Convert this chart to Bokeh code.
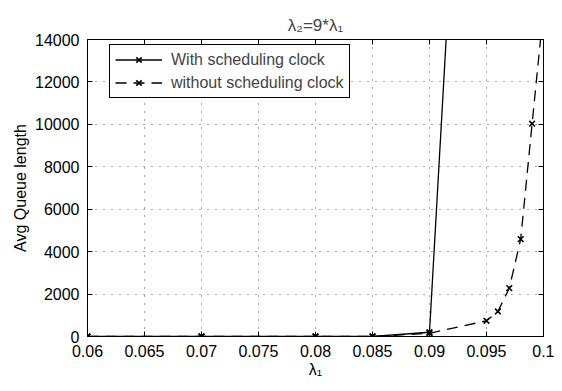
from bokeh.plotting import figure
from bokeh.models import Range1d, LinearAxis, Legend, LegendItem
from bokeh.embed import file_html
from bokeh.resources import INLINE

x_with = [0.06, 0.07, 0.08, 0.085, 0.09, 0.095]
y_with = [0, 0, 0, 0, 200, 47500]
x_without = [0.06, 0.07, 0.08, 0.085, 0.09, 0.095, 0.096, 0.097, 0.098, 0.099, 0.1]
y_without = [0, 0, 0, 0, 150, 740, 1180, 2280, 4590, 10030, 15400]
x_ticks = [0.06, 0.065, 0.07, 0.075, 0.08, 0.085, 0.09, 0.095, 0.1]
x_tick_labels = ["0.06", "0.065", "0.07", "0.075", "0.08", "0.085", "0.09", "0.095", "0.1"]
y_ticks = [0, 2000, 4000, 6000, 8000, 10000, 12000, 14000]

FONT = "Liberation Sans"
FS = "16px"

p = figure(width=554, height=383, output_backend="svg", toolbar_location=None,
           x_range=Range1d(0.06, 0.1), y_range=Range1d(0, 14000),
           min_border_left=87, min_border_right=11, min_border_top=39, min_border_bottom=47,
           title="λ₂=9*λ₁")
p.title.align = "center"
p.title.text_font = FONT
p.title.text_font_size = "17px"
p.title.text_font_style = "normal"
p.outline_line_color = "black"
p.outline_line_width = 1

for ax in (p.xaxis[0], p.yaxis[0]):
    ax.major_label_text_font = FONT
    ax.major_label_text_font_size = FS
    ax.axis_label_text_font = FONT
    ax.axis_label_text_font_size = FS
    ax.axis_label_text_font_style = "normal"
    ax.major_tick_in = 5
    ax.major_tick_out = 0
    ax.minor_tick_in = 3
    ax.minor_tick_out = 0
    ax.axis_line_color = "black"
    ax.major_tick_line_color = "black"
    ax.minor_tick_line_color = "black"
    ax.major_label_text_color = "black"
    ax.axis_label_text_color = "black"

p.xaxis[0].ticker = x_ticks
p.xaxis[0].major_label_overrides = {t: l for t, l in zip(x_ticks, x_tick_labels)}
p.yaxis[0].ticker = y_ticks
p.xaxis[0].axis_label = "λ₁"
p.yaxis[0].axis_label = "Avg Queue length"
p.xaxis[0].major_label_standoff = 8
p.xaxis[0].axis_label_standoff = 1
p.yaxis[0].major_label_standoff = 8
p.yaxis[0].axis_label_standoff = 3

for loc in ("right", "above"):
    ticks = x_ticks if loc == "above" else y_ticks
    a = LinearAxis(major_tick_in=5, major_tick_out=0,
                   minor_tick_in=3, minor_tick_out=0, axis_line_color="black",
                   major_tick_line_color="black", minor_tick_line_color="black",
                   major_label_standoff=0)
    a.ticker = ticks
    a.major_label_overrides = {t: "" for t in ticks}
    p.add_layout(a, loc)

p.grid.grid_line_color = "black"
p.grid.grid_line_alpha = 0.7
p.grid.grid_line_dash = "1 7"
p.xgrid.ticker = x_ticks
p.ygrid.ticker = y_ticks

l1 = p.line(x_with, y_with, line_color="black", line_width=1.3)
m1 = p.scatter(x_with, y_with, marker="x", size=8, line_color="black", line_width=1.6)
l2 = p.line(x_without, y_without, line_color="black", line_width=1.3, line_dash="11 7")
m2 = p.scatter(x_without, y_without, marker="x", size=8, line_color="black", line_width=1.6)

legend = Legend(items=[LegendItem(label="With scheduling clock", renderers=[l1, m1]),
                       LegendItem(label="without scheduling clock", renderers=[l2, m2])],
                location=(22, 238))
legend.label_text_font = FONT
legend.label_text_font_size = FS
legend.border_line_color = "black"
legend.border_line_width = 1
legend.border_line_alpha = 1
legend.glyph_width = 47
legend.glyph_height = 19
legend.spacing = 4
legend.padding = 5
legend.margin = 0
legend.label_standoff = 9
legend.label_height = 19
legend.background_fill_alpha = 1
p.add_layout(legend, "center")

open("out.html", "w").write(file_html(p, INLINE))
